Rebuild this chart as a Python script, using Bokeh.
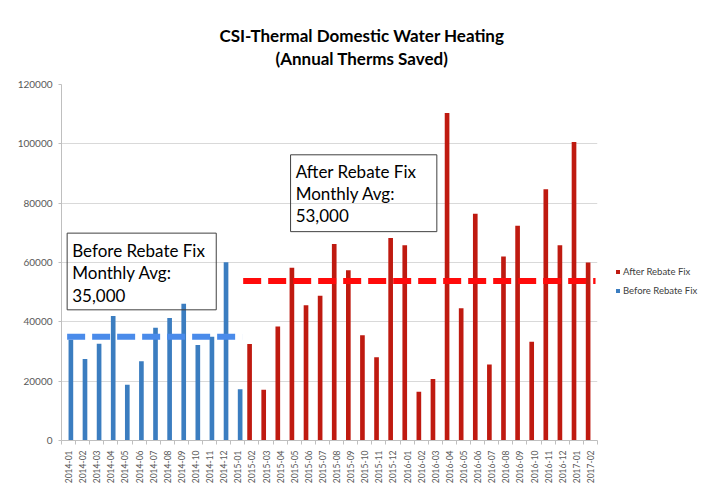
import math
from bokeh.plotting import figure
from bokeh.models import (Range1d, FixedTicker, Label, BoxAnnotation, Legend,
                          LegendItem, ColumnDataSource, Title)
from bokeh.transform import dodge
from bokeh.embed import file_html
from bokeh.resources import INLINE

# ---------------- data ----------------
months = ["2014-01", "2014-02", "2014-03", "2014-04", "2014-05", "2014-06",
          "2014-07", "2014-08", "2014-09", "2014-10", "2014-11", "2014-12",
          "2015-01", "2015-02", "2015-03", "2015-04", "2015-05", "2015-06",
          "2015-07", "2015-08", "2015-09", "2015-10", "2015-11", "2015-12",
          "2016-01", "2016-02", "2016-03", "2016-04", "2016-05", "2016-06",
          "2016-07", "2016-08", "2016-09", "2016-10", "2016-11", "2016-12",
          "2017-01", "2017-02"]

before_months = months[:13]
before_values = [34000, 27500, 32600, 42000, 18800, 26700, 38000, 41300,
                 46100, 32200, 35000, 60100, 17300]

after_months = months[13:]
after_values = [32500, 17100, 38400, 58200, 45600, 48800, 66200, 57400,
                35500, 28100, 68300, 65800, 16400, 20700, 110400, 44600,
                76400, 25600, 62000, 72400, 33300, 84700, 65800, 100600,
                60000]

before_avg_line = 35000
after_avg_line = 53800
before_text = ["Before Rebate Fix", "Monthly Avg:", "35,000"]
after_text = ["After Rebate Fix", "Monthly Avg:", "53,000"]

y_ticks = [0, 20000, 40000, 60000, 80000, 100000, 120000]
y_tick_labels = ["0", "20000", "40000", "60000", "80000", "100000", "120000"]

title_lines = ["CSI-Thermal Domestic Water Heating", "(Annual Therms Saved)"]

# ---------------- styles ----------------
BLUE = "#3B7DC0"
RED = "#BF1A10"
BLUE_DASH = "#4A8BEA"
RED_DASH = "#FF0A0A"
AXIS_GRAY = "#BFBFBF"
GRID_GRAY = "#D9D9D9"
TEXT_GRAY = "#595959"
FONT = "Lato"
BAR_W = 0.33

n = len(months)
src_before = ColumnDataSource(dict(x=[months.index(m) for m in before_months],
                                   top=before_values))
src_after = ColumnDataSource(dict(x=[months.index(m) for m in after_months],
                                  top=after_values))

p = figure(frame_width=536, frame_height=356,
           x_range=Range1d(-0.5, n - 0.5), y_range=Range1d(y_ticks[0], y_ticks[-1]),
           output_backend="svg", toolbar_location=None,
           min_border_left=61, min_border_right=100,
           min_border_top=84, min_border_bottom=43)
p.outline_line_color = None
p.background_fill_color = "white"
p.border_fill_color = "white"

r_after = p.vbar(x=dodge("x", -BAR_W / 2, range=p.x_range), top="top", bottom=0,
                 width=BAR_W, source=src_after, fill_color=RED, line_color=None)
r_before = p.vbar(x=dodge("x", BAR_W / 2, range=p.x_range), top="top", bottom=0,
                  width=BAR_W, source=src_before, fill_color=BLUE, line_color=None)
# invisible renderer used only as a spacer row in the legend
r_spacer = p.vbar(x=[], top=[], width=BAR_W, fill_alpha=0, line_alpha=0)

# average lines
p.line(x=[-0.1, 12.31], y=[before_avg_line, before_avg_line], line_color=BLUE_DASH,
       line_width=6, line_dash="18 7", line_cap="butt")
p.line(x=[12.38, 37.36], y=[after_avg_line, after_avg_line], line_color=RED_DASH,
       line_width=6, line_dash="18 7", line_cap="butt")

# annotation boxes
p.add_layout(BoxAnnotation(left=-0.1, right=10.47, top=69900, bottom=44050,
                           fill_alpha=0, line_color="#404040", line_width=1,
                           line_alpha=1))
p.add_layout(BoxAnnotation(left=15.74, right=26.11, top=96300, bottom=70400,
                           fill_alpha=0, line_color="#404040", line_width=1,
                           line_alpha=1))
for k, t in enumerate(before_text):
    p.add_layout(Label(x=0.26, y=64200, text=t, y_offset=-22.5 * k,
                       text_font=FONT, text_font_size="17px", text_color="black",
                       text_baseline="alphabetic", text_align="left"))
for k, t in enumerate(after_text):
    p.add_layout(Label(x=16.1, y=90750, text=t, y_offset=-22.0 * k,
                       text_font=FONT, text_font_size="17px", text_color="black",
                       text_baseline="alphabetic", text_align="left"))

# titles (closest to the frame first): a small spacer, then the two lines
p.add_layout(Title(text=" ", text_font_size="10px", standoff=3), "above")
p.add_layout(Title(text=title_lines[1], align="left", offset=214,
                   text_font=FONT, text_font_size="17px", text_font_style="bold",
                   text_color="black", standoff=0), "above")
p.add_layout(Title(text=title_lines[0], align="left", offset=158,
                   text_font=FONT, text_font_size="17px", text_font_style="bold",
                   text_color="black", standoff=0), "above")

# axes
xa = p.xaxis[0]
xa.ticker = FixedTicker(ticks=list(range(n)),
                        minor_ticks=[i - 0.5 for i in range(n + 1)])
xa.major_label_overrides = {i: m for i, m in enumerate(months)}
xa.major_label_orientation = math.pi / 2
xa.major_label_text_font = FONT
xa.major_label_text_font_size = "8.5px"
xa.major_label_text_color = TEXT_GRAY
xa.major_tick_out = 0
xa.major_tick_in = 0
xa.minor_tick_out = 4
xa.minor_tick_in = 0
xa.minor_tick_line_color = AXIS_GRAY
xa.axis_line_color = AXIS_GRAY
xa.major_label_standoff = 6

ya = p.yaxis[0]
ya.ticker = FixedTicker(ticks=y_ticks, minor_ticks=[])
ya.major_label_overrides = {v: s for v, s in zip(y_ticks, y_tick_labels)}
ya.major_label_text_font = FONT
ya.major_label_text_font_size = "10px"
ya.major_label_text_color = TEXT_GRAY
ya.axis_line_color = AXIS_GRAY
ya.major_tick_line_color = AXIS_GRAY
ya.major_tick_out = 3
ya.major_tick_in = 0
ya.minor_tick_line_color = None
ya.major_label_standoff = 6

p.xgrid.visible = False
p.ygrid.grid_line_color = GRID_GRAY
p.ygrid.ticker = FixedTicker(ticks=y_ticks)

legend = Legend(items=[LegendItem(label=" ", renderers=[r_spacer]),
                       LegendItem(label="  ", renderers=[r_spacer]),
                       LegendItem(label="After Rebate Fix", renderers=[r_after]),
                       LegendItem(label="Before Rebate Fix", renderers=[r_before])],
                location="center_left", glyph_width=5, glyph_height=5,
                label_text_font=FONT, label_text_font_size="9.5px",
                label_text_color="#404040", border_line_color=None,
                background_fill_alpha=0, spacing=0, padding=0, margin=0,
                label_standoff=3, label_height=19,
                title=" ", title_location="left", title_text_font_size="10px",
                title_standoff=7)
p.add_layout(legend, "right")

open("out.html", "w").write(file_html(p, INLINE))
